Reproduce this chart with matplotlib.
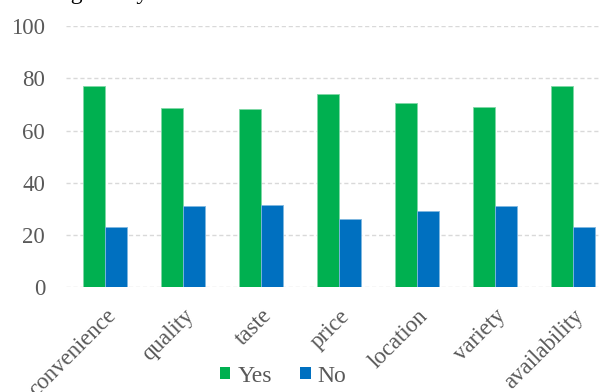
import matplotlib
matplotlib.use("Agg")
import matplotlib.pyplot as plt
import numpy as np
from matplotlib.patches import Patch

categories = ["convenience", "quality", "taste", "price", "location", "variety", "availability"]
yes_vals = [77.0, 68.7, 68.4, 74.0, 70.7, 68.9, 77.0]
no_vals = [23.0, 31.3, 31.6, 26.0, 29.3, 31.1, 23.0]
y_ticks = [0, 20, 40, 60, 80, 100]
series_names = ["Yes", "No"]

GREEN = "#00B050"
BLUE = "#0070C0"
GRAY = "#595959"

plt.rcParams["font.family"] = ["Liberation Serif", "DejaVu Serif"]

fig = plt.figure(figsize=(6.0, 3.92), dpi=100)
ax = fig.add_axes([66 / 600, 0.267, 546 / 600, 0.666])

x = np.arange(len(categories))
w = 0.285
ax.bar(x - w / 2, yes_vals, width=w, color=GREEN, edgecolor="#7fd8a6", linewidth=0.6, zorder=3)
ax.bar(x + w / 2, no_vals, width=w, color=BLUE, edgecolor="#7fb7e0", linewidth=0.6, zorder=3)

ax.set_xlim(-0.5, len(categories) - 0.5)
ax.set_ylim(0, 100)
ax.set_yticks(y_ticks)
ax.set_yticklabels([str(v) for v in y_ticks])
ax.yaxis.grid(True, linestyle=(0, (3, 2)), color="#D9D9D9", linewidth=1.0, zorder=0)
ax.set_axisbelow(True)
for s in ax.spines.values():
    s.set_visible(False)
ax.tick_params(axis="both", length=0, labelsize=16.5, labelcolor=GRAY)
ax.tick_params(axis="y", pad=15)
ax.set_xticks(x)
ax.set_xticklabels(categories, rotation=45, ha="right", rotation_mode="anchor")
ax.tick_params(axis="x", pad=13)

handles = [Patch(facecolor=GREEN, edgecolor="none"), Patch(facecolor=BLUE, edgecolor="none")]
leg = fig.legend(handles, series_names, loc="center", bbox_to_anchor=(283 / 600, 1 - 376 / 392),
                 ncol=2, frameon=False, fontsize=17, handlelength=0.45, handleheight=0.45,
                 handletextpad=0.3, columnspacing=1.2)
for t in leg.get_texts():
    t.set_color(GRAY)

fig.text(21 / 600, 1.0 + 1 / 392, "Eating out by reason", fontsize=17, color="black",
         ha="left", va="baseline")

fig.savefig("out.png", dpi=100)
